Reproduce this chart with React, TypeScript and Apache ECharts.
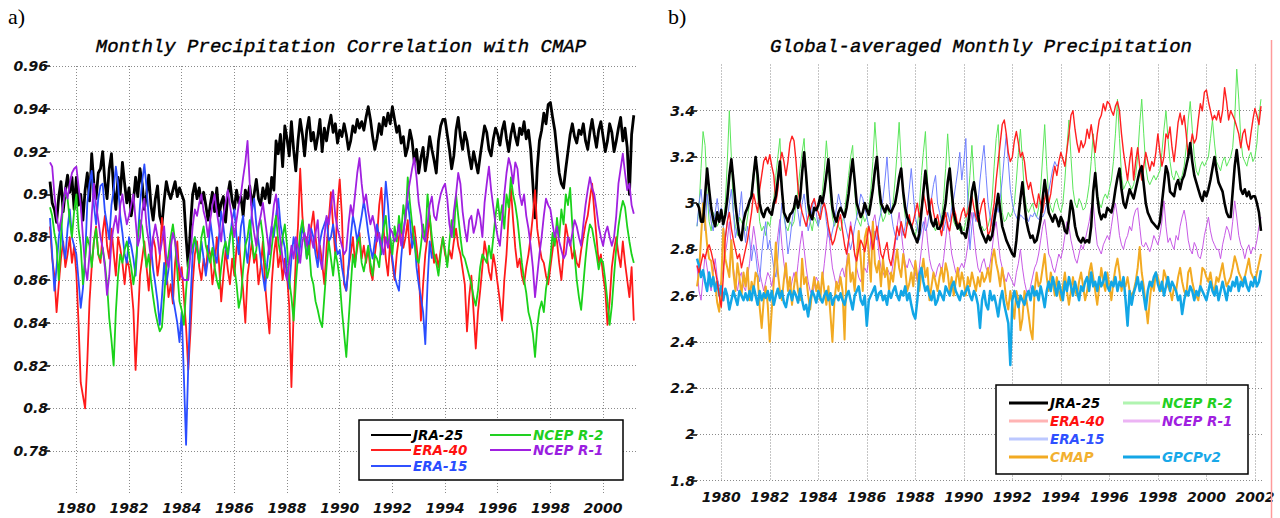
import React, { useEffect, useRef } from "react";
import * as echarts from "echarts";

const START_YEAR = 1979;
const X_TICKS = [1980, 1982, 1984, 1986, 1988, 1990, 1992, 1994, 1996, 1998, 2000, 2002];

// ---------- Panel a: monthly correlation with CMAP (Jan 1979 onward) ----------
const corrJRA25 = [
  0.906,0.896,0.893,0.887,0.899,0.906,0.892,0.902,0.909,0.901,0.908,0.893,
  0.908,0.895,0.900,0.888,0.902,0.910,0.897,0.919,0.905,0.898,0.910,0.912,
  0.920,0.906,0.898,0.912,0.919,0.902,0.893,0.908,0.900,0.915,0.905,0.896,
  0.903,0.890,0.897,0.908,0.899,0.912,0.905,0.893,0.900,0.909,0.895,0.888,
  0.898,0.904,0.890,0.886,0.897,0.906,0.901,0.898,0.902,0.906,0.899,0.903,
  0.900,0.897,0.880,0.866,0.885,0.900,0.905,0.898,0.903,0.896,0.901,0.895,
  0.888,0.895,0.901,0.892,0.903,0.890,0.896,0.899,0.887,0.900,0.906,0.897,
  0.893,0.902,0.896,0.899,0.890,0.902,0.898,0.904,0.895,0.900,0.907,0.898,
  0.895,0.903,0.898,0.905,0.896,0.908,0.902,0.925,0.919,0.928,0.913,0.932,
  0.926,0.918,0.934,0.921,0.911,0.925,0.935,0.928,0.918,0.930,0.936,0.925,
  0.929,0.921,0.927,0.935,0.920,0.931,0.925,0.932,0.937,0.929,0.933,0.924,
  0.930,0.927,0.933,0.928,0.921,0.925,0.932,0.929,0.935,0.931,0.934,0.930,
  0.936,0.941,0.935,0.927,0.921,0.926,0.933,0.928,0.936,0.932,0.938,0.933,
  0.941,0.935,0.929,0.932,0.924,0.927,0.918,0.922,0.930,0.925,0.915,0.921,
  0.910,0.917,0.922,0.911,0.918,0.927,0.921,0.916,0.910,0.925,0.932,0.935,
  0.935,0.928,0.921,0.912,0.918,0.930,0.936,0.927,0.921,0.929,0.925,0.918,
  0.912,0.920,0.915,0.910,0.918,0.925,0.932,0.929,0.921,0.918,0.926,0.931,
  0.928,0.923,0.930,0.934,0.926,0.920,0.928,0.933,0.927,0.923,0.931,0.928,
  0.934,0.926,0.930,0.921,0.905,0.889,0.912,0.925,0.930,0.938,0.933,0.942,
  0.943,0.936,0.930,0.920,0.910,0.905,0.903,0.912,0.920,0.928,0.933,0.927,
  0.924,0.930,0.928,0.933,0.925,0.921,0.929,0.935,0.928,0.922,0.930,0.934,
  0.927,0.920,0.925,0.933,0.929,0.920,0.925,0.931,0.936,0.925,0.931,0.922,
  0.900,0.928,0.937,
];
const corrERA40 = [
  0.885,0.870,0.862,0.845,0.858,0.870,0.878,0.866,0.872,0.880,0.868,0.876,
  0.863,0.840,0.812,0.806,0.800,0.822,0.850,0.866,0.878,0.885,0.872,0.868,
  0.882,0.890,0.876,0.870,0.884,0.873,0.862,0.880,0.875,0.868,0.858,0.870,
  0.866,0.858,0.846,0.818,0.840,0.862,0.870,0.878,0.866,0.855,0.872,0.880,
  0.875,0.862,0.870,0.889,0.878,0.865,0.852,0.858,0.849,0.868,0.878,0.860,
  0.866,0.852,0.838,0.818,0.836,0.858,0.872,0.878,0.866,0.860,0.870,0.864,
  0.876,0.872,0.858,0.866,0.880,0.868,0.850,0.862,0.874,0.865,0.858,0.870,
  0.862,0.875,0.880,0.866,0.855,0.840,0.862,0.870,0.878,0.868,0.872,0.858,
  0.866,0.878,0.858,0.846,0.835,0.858,0.872,0.880,0.866,0.872,0.860,0.870,
  0.862,0.848,0.810,0.845,0.870,0.885,0.912,0.890,0.878,0.880,0.872,0.885,
  0.892,0.880,0.870,0.876,0.868,0.858,0.875,0.888,0.901,0.885,0.872,0.895,
  0.907,0.890,0.858,0.855,0.866,0.872,0.880,0.868,0.875,0.882,0.870,0.876,
  0.868,0.875,0.864,0.860,0.872,0.880,0.895,0.903,0.884,0.870,0.862,0.878,
  0.868,0.860,0.872,0.880,0.886,0.875,0.880,0.888,0.872,0.880,0.885,0.876,
  0.866,0.841,0.858,0.872,0.880,0.890,0.876,0.868,0.872,0.866,0.874,0.880,
  0.872,0.868,0.874,0.870,0.878,0.884,0.876,0.872,0.865,0.858,0.836,0.852,
  0.862,0.845,0.828,0.845,0.855,0.866,0.878,0.872,0.864,0.860,0.872,0.866,
  0.858,0.850,0.841,0.860,0.872,0.890,0.903,0.888,0.875,0.866,0.870,0.862,
  0.858,0.866,0.872,0.880,0.890,0.902,0.884,0.876,0.870,0.868,0.862,0.858,
  0.866,0.874,0.882,0.878,0.868,0.860,0.872,0.886,0.880,0.878,0.870,0.874,
  0.868,0.866,0.874,0.880,0.886,0.890,0.898,0.905,0.892,0.880,0.868,0.872,
  0.862,0.855,0.839,0.850,0.866,0.874,0.880,0.872,0.866,0.878,0.868,0.860,
  0.852,0.866,0.841,
];
const corrERA15 = [
  0.889,0.872,0.855,0.866,0.880,0.887,0.876,0.870,0.884,0.893,0.880,0.876,
  0.872,0.860,0.847,0.856,0.870,0.896,0.905,0.911,0.895,0.886,0.898,0.904,
  0.905,0.892,0.886,0.879,0.895,0.902,0.913,0.905,0.890,0.882,0.872,0.868,
  0.880,0.876,0.870,0.862,0.880,0.895,0.906,0.914,0.903,0.889,0.876,0.865,
  0.858,0.850,0.839,0.852,0.868,0.858,0.865,0.878,0.852,0.846,0.840,0.831,
  0.845,0.815,0.783,0.820,0.850,0.872,0.880,0.875,0.868,0.878,0.870,0.862,
  0.870,0.888,0.880,0.872,0.868,0.880,0.892,0.885,0.876,0.870,0.880,0.888,
  0.893,0.880,0.872,0.885,0.890,0.876,0.868,0.880,0.892,0.898,0.886,0.878,
  0.870,0.862,0.855,0.868,0.878,0.885,0.880,0.890,0.898,0.886,0.880,0.875,
  0.864,0.856,0.870,0.880,0.875,0.868,0.876,0.885,0.880,0.870,0.878,0.884,
  0.880,0.872,0.866,0.878,0.883,0.886,0.889,0.878,0.880,0.886,0.878,0.872,
  0.874,0.866,0.860,0.855,0.866,0.880,0.890,0.885,0.878,0.884,0.890,0.897,
  0.890,0.882,0.875,0.870,0.878,0.886,0.880,0.872,0.888,0.906,0.895,0.880,
  0.870,0.862,0.858,0.855,0.870,0.882,0.890,0.897,0.888,0.875,0.880,0.866,
  0.858,0.852,0.845,0.830,0.858,0.878,0.870,
];
const corrNCEP2 = [
  0.894,0.890,0.882,0.876,0.860,0.880,0.896,0.900,0.898,0.888,0.880,0.892,
  0.900,0.884,0.876,0.858,0.870,0.880,0.876,0.866,0.878,0.884,0.872,0.870,
  0.875,0.868,0.858,0.842,0.832,0.820,0.845,0.862,0.872,0.868,0.874,0.878,
  0.872,0.866,0.858,0.866,0.880,0.888,0.885,0.874,0.866,0.872,0.860,0.852,
  0.845,0.840,0.836,0.838,0.852,0.866,0.872,0.880,0.886,0.878,0.864,0.850,
  0.846,0.839,0.855,0.868,0.872,0.876,0.880,0.874,0.868,0.880,0.885,0.876,
  0.872,0.868,0.875,0.866,0.860,0.856,0.866,0.874,0.878,0.872,0.880,0.885,
  0.866,0.858,0.847,0.852,0.865,0.876,0.880,0.888,0.878,0.870,0.874,0.885,
  0.888,0.880,0.868,0.861,0.866,0.875,0.884,0.890,0.878,0.872,0.880,0.886,
  0.876,0.860,0.852,0.841,0.858,0.872,0.882,0.888,0.880,0.870,0.876,0.862,
  0.858,0.850,0.846,0.841,0.838,0.852,0.866,0.878,0.870,0.862,0.873,0.868,
  0.860,0.846,0.835,0.824,0.840,0.856,0.872,0.866,0.878,0.880,0.868,0.864,
  0.870,0.876,0.868,0.862,0.872,0.870,0.866,0.878,0.884,0.890,0.876,0.880,
  0.872,0.885,0.878,0.890,0.882,0.895,0.888,0.908,0.896,0.886,0.878,0.870,
  0.868,0.876,0.886,0.878,0.900,0.890,0.880,0.872,0.868,0.862,0.872,0.880,
  0.874,0.866,0.878,0.888,0.880,0.900,0.890,0.880,0.872,0.870,0.866,0.862,
  0.858,0.852,0.848,0.855,0.866,0.872,0.870,0.868,0.876,0.870,0.880,0.890,
  0.898,0.888,0.895,0.884,0.900,0.894,0.908,0.900,0.895,0.888,0.878,0.868,
  0.860,0.854,0.845,0.841,0.835,0.824,0.838,0.846,0.850,0.845,0.856,0.862,
  0.870,0.882,0.876,0.889,0.880,0.893,0.886,0.900,0.895,0.903,0.885,0.872,
  0.860,0.852,0.846,0.858,0.870,0.880,0.886,0.884,0.878,0.872,0.865,0.870,
  0.868,0.860,0.850,0.839,0.848,0.862,0.875,0.885,0.892,0.897,0.894,0.885,
  0.878,0.872,0.868,
];
const corrNCEP1 = [
  0.915,0.913,0.900,0.890,0.883,0.888,0.895,0.903,0.898,0.905,0.910,0.912,
  0.913,0.904,0.895,0.880,0.866,0.860,0.872,0.890,0.905,0.895,0.888,0.880,
  0.875,0.866,0.853,0.862,0.878,0.885,0.890,0.882,0.895,0.900,0.892,0.886,
  0.890,0.895,0.900,0.888,0.876,0.880,0.892,0.898,0.885,0.878,0.870,0.880,
  0.886,0.880,0.872,0.878,0.885,0.870,0.866,0.875,0.882,0.878,0.870,0.866,
  0.862,0.860,0.860,0.860,0.872,0.885,0.893,0.890,0.896,0.900,0.892,0.888,
  0.880,0.888,0.895,0.900,0.892,0.885,0.878,0.890,0.896,0.902,0.895,0.888,
  0.880,0.888,0.895,0.900,0.908,0.915,0.925,0.905,0.890,0.882,0.876,0.885,
  0.890,0.896,0.888,0.880,0.872,0.885,0.895,0.900,0.888,0.878,0.870,0.864,
  0.860,0.868,0.876,0.870,0.880,0.875,0.868,0.878,0.882,0.876,0.886,0.880,
  0.875,0.882,0.888,0.870,0.865,0.880,0.890,0.886,0.895,0.902,0.890,0.884,
  0.880,0.876,0.872,0.874,0.886,0.895,0.890,0.900,0.910,0.917,0.905,0.896,
  0.900,0.892,0.886,0.890,0.885,0.878,0.882,0.876,0.872,0.880,0.875,0.884,
  0.882,0.878,0.880,0.886,0.876,0.882,0.890,0.900,0.906,0.912,0.917,0.908,
  0.896,0.890,0.880,0.878,0.886,0.895,0.899,0.890,0.888,0.895,0.900,0.903,
  0.905,0.898,0.886,0.880,0.892,0.900,0.910,0.905,0.892,0.884,0.878,0.888,
  0.890,0.882,0.886,0.893,0.889,0.880,0.896,0.905,0.913,0.902,0.894,0.886,
  0.880,0.876,0.888,0.900,0.910,0.917,0.913,0.905,0.915,0.912,0.900,0.895,
  0.900,0.890,0.884,0.876,0.866,0.852,0.862,0.872,0.880,0.890,0.898,0.895,
  0.893,0.886,0.880,0.885,0.878,0.874,0.870,0.872,0.880,0.876,0.882,0.888,
  0.885,0.880,0.876,0.886,0.895,0.902,0.908,0.903,0.900,0.893,0.885,0.880,
  0.876,0.882,0.885,0.880,0.876,0.880,0.890,0.905,0.912,0.919,0.910,0.902,
  0.905,0.895,0.891,
];

// ---------- Panel b: global-averaged monthly precipitation (mm/day), Jan 1979 onward ----------
const precJRA25 = [
  3.00,2.98,2.92,2.92,3.03,3.15,3.06,2.98,2.93,2.90,2.96,2.92,
  2.97,2.91,2.95,3.02,3.12,3.19,3.10,3.00,2.92,2.86,2.84,2.92,
  2.96,2.98,3.01,3.03,3.12,3.20,3.12,3.00,2.96,2.94,2.97,2.98,
  2.96,2.95,3.00,3.03,3.10,3.18,3.06,2.96,2.94,2.92,2.95,2.96,
  2.98,3.03,2.98,3.02,3.13,3.22,3.12,3.00,2.95,2.93,2.98,2.97,
  2.99,3.03,3.00,3.05,3.12,3.19,3.08,2.98,2.94,2.92,2.96,2.98,
  2.96,2.94,2.98,3.04,3.12,3.19,3.10,3.00,2.97,2.94,2.96,3.00,
  2.97,2.95,3.00,3.06,3.14,3.20,3.08,3.00,2.98,2.96,2.99,2.97,
  2.96,2.98,3.00,3.05,3.11,3.15,3.05,2.98,2.94,2.92,2.90,2.87,
  2.85,2.83,2.87,2.96,3.05,3.14,3.06,2.97,2.92,2.90,2.93,2.89,
  2.89,2.91,2.95,3.00,3.09,3.15,3.05,2.96,2.92,2.89,2.91,2.87,
  2.87,2.85,2.90,2.97,3.05,3.09,3.03,2.95,2.90,2.87,2.85,2.83,
  2.86,2.84,2.86,2.92,2.98,3.04,2.97,2.90,2.87,2.84,2.82,2.80,
  2.78,2.77,2.84,2.94,3.02,3.09,3.00,2.92,2.88,2.85,2.86,2.83,
  2.84,2.88,2.93,3.02,3.10,3.03,2.96,2.94,2.92,2.95,2.93,2.90,
  2.94,2.92,2.88,2.87,2.93,3.01,2.97,2.90,2.86,2.84,2.83,2.85,
  2.83,2.84,2.83,2.90,3.05,3.13,3.03,2.96,2.93,2.95,2.94,2.98,
  2.97,2.96,3.00,3.06,3.11,3.15,3.06,3.00,2.98,3.02,3.06,3.04,
  3.02,3.06,3.10,3.14,3.16,3.08,3.00,2.96,2.94,2.92,2.91,2.90,
  2.89,2.92,3.00,3.08,3.16,3.13,3.05,3.04,3.03,3.08,3.10,3.06,
  3.10,3.12,3.16,3.20,3.26,3.18,3.12,3.09,3.06,3.03,3.01,3.05,
  3.03,3.06,3.10,3.15,3.20,3.14,3.09,3.07,3.05,3.00,2.96,2.94,
  2.94,3.05,3.16,3.23,3.15,3.06,3.04,3.06,3.03,3.05,3.02,3.03,
  3.03,3.00,2.96,2.88,
];
const precERA40 = [
  2.73,2.70,2.74,2.78,2.76,2.80,2.82,2.79,2.75,2.71,2.66,2.60,
  2.55,2.68,2.85,2.92,2.96,2.89,2.84,2.80,2.76,2.78,2.72,2.76,
  2.80,2.84,2.90,2.96,3.04,3.00,2.96,3.06,3.12,3.18,3.20,3.17,
  3.21,3.16,3.12,3.00,3.06,3.18,3.22,3.18,3.12,3.18,3.26,3.29,
  3.27,3.18,3.06,3.00,2.96,2.93,2.90,2.94,2.97,3.00,3.02,2.98,
  2.96,2.93,2.98,3.00,2.96,2.90,2.86,2.82,2.84,2.88,2.92,2.95,
  2.88,2.82,2.78,2.84,2.90,2.86,2.78,2.75,2.80,2.84,2.82,2.79,
  2.84,2.90,2.86,2.80,2.85,2.90,2.84,2.78,2.76,2.80,2.83,2.76,
  2.73,2.78,2.84,2.90,2.86,2.92,2.88,2.85,2.91,2.95,2.89,2.92,
  2.96,3.00,2.94,2.98,3.04,3.00,2.95,2.98,3.02,2.96,2.92,2.95,
  2.90,2.86,2.92,2.96,2.90,2.88,2.94,2.98,2.95,2.90,2.92,2.96,
  2.98,2.94,2.96,3.00,3.03,2.98,2.94,2.92,2.96,3.00,3.02,2.94,
  2.86,2.88,2.94,3.00,3.10,3.18,3.26,3.34,3.36,3.30,3.22,3.18,
  3.20,3.27,3.31,3.26,3.20,3.22,3.18,3.10,3.06,3.09,3.04,3.00,
  2.98,3.04,3.00,2.96,3.02,3.06,3.00,3.04,3.11,3.16,3.12,3.18,
  3.22,3.19,3.16,3.23,3.30,3.38,3.40,3.32,3.26,3.22,3.27,3.24,
  3.26,3.32,3.28,3.34,3.28,3.22,3.30,3.36,3.38,3.43,3.40,3.44,
  3.43,3.40,3.38,3.42,3.44,3.40,3.30,3.22,3.16,3.10,3.18,3.24,
  3.10,3.18,3.24,3.16,3.10,3.16,3.22,3.18,3.14,3.18,3.16,3.22,
  3.30,3.22,3.16,3.20,3.30,3.28,3.33,3.24,3.18,3.26,3.35,3.39,
  3.34,3.38,3.30,3.20,3.24,3.30,3.26,3.28,3.36,3.43,3.40,3.48,
  3.49,3.44,3.40,3.36,3.38,3.36,3.40,3.35,3.40,3.50,3.44,3.36,
  3.40,3.38,3.36,3.33,3.30,3.24,3.30,3.32,3.26,3.23,3.30,3.36,
  3.41,3.38,3.34,3.42,
];
const precERA15 = [
  2.90,3.00,3.06,2.96,2.88,3.04,2.98,2.92,2.88,2.96,3.02,2.94,
  2.98,2.90,2.84,2.92,3.00,3.06,2.96,2.85,2.90,2.96,3.05,2.92,
  2.83,2.90,2.85,2.75,2.82,2.78,2.70,2.66,2.78,2.86,2.92,2.80,
  2.84,2.78,2.72,2.68,2.76,2.90,3.00,2.96,2.88,2.78,2.84,2.92,
  2.98,3.02,2.96,2.90,3.00,3.04,2.96,2.88,2.92,2.98,3.02,2.96,
  2.90,2.96,3.02,3.00,2.92,2.86,2.84,2.88,2.92,2.98,3.04,3.00,
  2.96,2.92,2.88,2.84,2.80,2.84,2.90,2.94,2.98,3.04,3.02,2.98,
  2.94,2.90,2.86,2.82,2.88,2.84,2.92,2.96,3.02,3.10,3.20,3.06,
  2.96,2.90,2.86,2.84,2.88,2.92,2.86,2.90,2.98,3.06,3.15,3.04,
  2.94,2.90,2.84,2.88,2.92,2.88,2.90,2.96,3.02,3.08,3.12,3.00,
  2.96,2.92,2.88,2.92,2.96,2.92,2.98,3.02,3.08,3.14,3.22,3.10,
  3.18,3.28,3.00,2.80,2.90,2.96,2.92,3.00,3.10,3.18,3.25,3.12,
  3.00,2.94,2.90,2.96,3.00,2.96,3.02,3.10,3.20,3.30,3.18,3.06,
  3.00,2.96,2.94,2.92,2.95,2.94,2.93,2.94,2.92,2.95,2.94,2.96,
  2.94,2.93,2.95,2.94,2.96,3.00,3.05,3.10,3.15,3.18,3.16,3.17,
];
const precNCEP2 = [
  2.90,2.98,3.15,3.31,3.25,3.05,2.92,2.88,2.96,2.94,2.90,2.92,
  2.96,2.90,3.00,3.18,3.40,3.20,2.96,2.90,2.86,2.94,2.92,2.90,
  2.88,2.94,3.00,3.06,3.14,3.20,3.04,2.92,2.88,2.90,2.86,2.92,
  2.90,2.96,3.02,3.12,3.20,3.28,3.08,2.94,2.90,2.88,2.92,2.90,
  2.92,3.00,3.06,3.15,3.22,3.28,3.10,2.96,2.92,2.88,2.94,2.92,
  2.90,2.96,3.05,3.14,3.27,3.16,3.02,2.94,2.90,2.93,2.90,2.88,
  2.92,2.96,3.04,3.12,3.20,3.25,3.06,2.94,2.92,2.90,2.95,2.92,
  2.94,2.98,3.06,3.18,3.35,3.22,3.04,2.96,2.92,2.94,2.98,2.95,
  2.96,3.00,3.10,3.22,3.35,3.18,3.02,2.94,2.90,2.92,2.90,2.88,
  2.86,2.90,2.98,3.12,3.22,3.31,3.10,2.96,2.92,2.90,2.88,2.92,
  2.90,2.94,3.02,3.15,3.30,3.16,3.00,2.92,2.90,2.92,2.88,2.90,
  2.88,2.92,3.00,3.12,3.25,3.10,2.98,2.92,2.89,2.90,2.88,2.89,
  2.90,2.94,3.02,3.16,3.28,3.34,3.12,2.96,2.92,2.93,2.96,2.94,
  2.96,3.00,3.10,3.22,3.32,3.18,3.04,2.98,2.96,2.98,3.00,2.96,
  2.94,2.98,3.06,3.20,3.34,3.16,3.02,2.98,2.96,3.00,3.02,2.98,
  2.96,3.00,3.10,3.24,3.36,3.20,3.06,3.00,2.98,3.02,3.00,2.97,
  2.98,3.02,3.08,3.18,3.30,3.16,3.04,3.00,2.98,3.02,3.04,3.02,
  3.06,3.10,3.18,3.30,3.45,3.28,3.12,3.06,3.08,3.10,3.08,3.06,
  3.08,3.12,3.20,3.34,3.45,3.30,3.16,3.10,3.08,3.10,3.12,3.10,
  3.12,3.14,3.22,3.32,3.40,3.28,3.18,3.12,3.10,3.14,3.12,3.10,
  3.12,3.16,3.24,3.36,3.44,3.32,3.20,3.14,3.12,3.16,3.18,3.16,
  3.18,3.20,3.28,3.36,3.26,3.18,3.16,3.14,3.18,3.20,3.16,3.18,
  3.20,3.24,3.36,3.58,3.45,3.28,3.20,3.18,3.16,3.20,3.22,3.18,
  3.20,3.26,3.38,3.45,
];
const precNCEP1 = [
  2.73,2.62,2.58,2.68,2.78,2.72,2.66,2.62,2.70,2.76,2.68,2.64,
  2.66,2.72,2.78,2.84,2.92,2.80,2.72,2.66,2.62,2.68,2.70,2.64,
  2.62,2.68,2.74,2.82,2.90,2.84,2.76,2.70,2.66,2.62,2.66,2.70,
  2.68,2.64,2.70,2.78,2.86,2.93,2.82,2.74,2.68,2.64,2.62,2.66,
  2.70,2.66,2.74,2.82,2.88,2.80,2.72,2.66,2.62,2.60,2.64,2.68,
  2.66,2.62,2.66,2.74,2.82,2.90,2.80,2.72,2.68,2.64,2.66,2.70,
  2.72,2.68,2.74,2.84,2.92,2.86,2.78,2.72,2.68,2.66,2.70,2.72,
  2.70,2.76,2.84,2.92,2.95,2.88,2.78,2.72,2.70,2.68,2.72,2.70,
  2.68,2.74,2.82,2.90,2.96,2.88,2.80,2.74,2.72,2.76,2.74,2.72,
  2.70,2.66,2.72,2.80,2.88,2.94,2.84,2.76,2.72,2.70,2.68,2.72,
  2.74,2.70,2.76,2.84,2.92,2.86,2.78,2.74,2.70,2.68,2.72,2.74,
  2.72,2.76,2.82,2.90,2.96,2.86,2.78,2.72,2.70,2.74,2.76,2.72,
  2.70,2.74,2.80,2.88,2.92,2.84,2.76,2.72,2.68,2.66,2.70,2.68,
  2.66,2.64,2.70,2.74,2.80,2.72,2.66,2.62,2.60,2.64,2.68,2.72,
  2.74,2.78,2.84,2.90,2.93,2.86,2.78,2.76,2.72,2.70,2.74,2.78,
  2.76,2.80,2.86,2.92,2.90,2.84,2.80,2.76,2.74,2.78,2.82,2.80,
  2.84,2.88,2.92,2.98,3.00,2.90,2.82,2.80,2.78,2.82,2.84,2.86,
  2.84,2.90,2.96,3.00,2.94,2.86,2.82,2.80,2.84,2.86,2.90,2.88,
  2.94,2.97,2.98,2.90,2.82,2.81,2.83,2.81,2.79,2.82,2.86,2.84,
  2.82,2.86,2.92,3.01,2.90,2.83,2.85,2.82,2.80,2.86,2.84,2.90,
  2.94,2.97,2.92,2.84,2.80,2.78,2.83,2.81,2.77,2.76,2.80,2.86,
  2.90,2.94,2.88,2.84,2.82,2.80,2.80,2.76,2.82,2.86,2.90,2.88,
  2.84,2.92,3.01,2.94,2.86,2.82,2.80,2.76,2.80,2.82,2.78,2.81,
  2.80,2.84,2.90,2.94,
];
const precCMAP = [
  2.64,2.70,2.85,3.00,2.92,2.82,2.76,2.75,2.68,2.65,2.57,2.53,
  2.66,2.89,2.76,2.72,2.68,2.84,2.70,2.62,2.74,2.68,2.60,2.70,
  2.64,2.72,2.58,2.66,2.62,2.70,2.68,2.55,2.46,2.58,2.64,2.56,
  2.40,2.54,2.66,2.83,2.70,2.62,2.58,2.67,2.74,2.62,2.68,2.56,
  2.64,2.70,2.62,2.58,2.76,2.65,2.68,2.60,2.54,2.62,2.68,2.62,
  2.66,2.58,2.70,2.62,2.56,2.64,2.52,2.40,2.58,2.66,2.62,2.68,
  2.62,2.41,2.72,2.78,2.66,2.70,2.62,2.76,2.88,2.76,2.62,2.85,
  2.89,2.78,2.66,2.92,2.74,2.70,2.75,2.64,2.76,2.68,2.72,2.62,
  2.70,2.66,2.74,2.80,2.72,2.68,2.78,2.72,2.62,2.65,2.70,2.64,
  2.75,2.68,2.62,2.70,2.76,2.68,2.72,2.58,2.64,2.70,2.66,2.62,
  2.68,2.72,2.66,2.74,2.70,2.62,2.68,2.60,2.66,2.72,2.64,2.70,
  2.66,2.60,2.68,2.64,2.70,2.66,2.62,2.68,2.64,2.70,2.66,2.68,
  2.72,2.66,2.76,2.80,2.74,2.70,2.64,2.72,2.66,2.58,2.54,2.62,
  2.56,2.50,2.62,2.58,2.45,2.50,2.62,2.58,2.52,2.45,2.41,2.62,
  2.70,2.64,2.66,2.72,2.78,2.68,2.62,2.70,2.66,2.60,2.68,2.62,
  2.58,2.64,2.70,2.62,2.56,2.62,2.68,2.62,2.60,2.66,2.70,2.64,
  2.58,2.62,2.70,2.74,2.68,2.62,2.56,2.64,2.72,2.66,2.62,2.70,
  2.64,2.58,2.66,2.72,2.76,2.70,2.62,2.66,2.64,2.68,2.62,2.60,
  2.62,2.66,2.72,2.81,2.70,2.64,2.56,2.48,2.58,2.66,2.62,2.70,
  2.68,2.64,2.62,2.71,2.68,2.64,2.62,2.58,2.64,2.62,2.68,2.72,
  2.66,2.62,2.60,2.70,2.72,2.66,2.62,2.60,2.58,2.64,2.72,2.71,
  2.68,2.66,2.70,2.64,2.62,2.68,2.66,2.70,2.74,2.68,2.64,2.66,
  2.68,2.72,2.77,2.74,2.70,2.68,2.66,2.68,2.72,2.76,2.70,2.68,
  2.66,2.70,2.74,2.78,
];
const precGPCP = [
  2.76,2.73,2.68,2.71,2.66,2.62,2.70,2.64,2.68,2.62,2.66,2.60,
  2.64,2.58,2.63,2.60,2.54,2.58,2.62,2.59,2.56,2.62,2.60,2.58,
  2.61,2.58,2.62,2.58,2.64,2.60,2.56,2.62,2.58,2.61,2.59,2.62,
  2.58,2.62,2.56,2.60,2.63,2.59,2.62,2.57,2.55,2.60,2.62,2.58,
  2.62,2.60,2.57,2.63,2.58,2.54,2.56,2.51,2.58,2.62,2.60,2.57,
  2.62,2.59,2.57,2.60,2.62,2.58,2.61,2.56,2.59,2.60,2.58,2.61,
  2.58,2.56,2.60,2.62,2.58,2.54,2.60,2.62,2.64,2.58,2.56,2.60,
  2.47,2.58,2.60,2.62,2.64,2.58,2.61,2.62,2.58,2.60,2.56,2.62,
  2.59,2.62,2.64,2.60,2.58,2.62,2.60,2.64,2.58,2.61,2.56,2.52,
  2.50,2.58,2.69,2.72,2.66,2.62,2.64,2.60,2.58,2.62,2.56,2.58,
  2.62,2.60,2.58,2.64,2.62,2.60,2.64,2.66,2.62,2.60,2.58,2.62,
  2.60,2.62,2.64,2.60,2.58,2.62,2.60,2.56,2.46,2.58,2.62,2.56,
  2.54,2.62,2.58,2.60,2.56,2.51,2.58,2.62,2.56,2.52,2.48,2.30,
  2.58,2.62,2.58,2.55,2.60,2.58,2.56,2.60,2.62,2.58,2.64,2.60,
  2.62,2.58,2.64,2.60,2.55,2.62,2.66,2.62,2.68,2.64,2.60,2.66,
  2.62,2.58,2.66,2.62,2.68,2.64,2.60,2.66,2.62,2.58,2.64,2.62,
  2.66,2.68,2.62,2.70,2.64,2.66,2.62,2.68,2.64,2.66,2.70,2.64,
  2.62,2.66,2.64,2.68,2.62,2.66,2.64,2.68,2.58,2.47,2.62,2.56,
  2.61,2.64,2.68,2.62,2.66,2.60,2.54,2.62,2.66,2.64,2.68,2.70,
  2.65,2.62,2.66,2.60,2.64,2.68,2.62,2.66,2.64,2.62,2.58,2.60,
  2.52,2.58,2.62,2.60,2.64,2.62,2.58,2.62,2.60,2.64,2.62,2.60,
  2.58,2.62,2.66,2.62,2.60,2.64,2.58,2.62,2.66,2.62,2.58,2.64,
  2.62,2.66,2.64,2.68,2.62,2.66,2.64,2.68,2.64,2.62,2.66,2.64,
  2.68,2.64,2.66,2.71,
];

const LABEL_FONT = "'DejaVu Sans', sans-serif";
const TITLE_FONT = "'Liberation Mono', monospace";

const toXY = (vals: number[]) => vals.map((v, i) => [START_YEAR + i / 12, v]);

const gridLine = { show: true, lineStyle: { color: "#8a8a8a", width: 1, type: [1, 2] as any } };
const axisLabelStyle = {
  fontFamily: LABEL_FONT,
  fontSize: 14,
  fontWeight: "bold" as const,
  fontStyle: "italic" as const,
  color: "#111",
};

function xAxisFor(gridIndex: number, min: number, max: number, margin: number) {
  return {
    type: "value",
    gridIndex,
    min,
    max,
    minInterval: 2,
    maxInterval: 2,
    splitNumber: 11,
    axisLine: { show: false },
    axisTick: { show: false },
    splitLine: { ...gridLine, showMinLine: false, showMaxLine: false },
    axisLabel: {
      ...axisLabelStyle,
      margin,
      showMinLabel: false,
      showMaxLabel: false,
      formatter: (v: number) => (X_TICKS.some((t) => Math.abs(t - v) < 1e-6) ? String(Math.round(v)) : ""),
    },
  };
}

function legendItems(rows: any[]) {
  const els: any[] = [];
  rows.forEach((r) => {
    els.push({
      type: "line",
      shape: { x1: r.x, y1: r.y, x2: r.x + r.len, y2: r.y },
      style: { stroke: r.line, lineWidth: r.w },
      z: 100,
    });
    els.push({
      type: "text",
      x: r.x + r.len + 2,
      y: r.y,
      style: {
        text: r.name,
        fill: r.color,
        font: `italic bold 13.5px ${LABEL_FONT}`,
        textVerticalAlign: "middle",
        textAlign: "left",
      },
      z: 100,
    });
  });
  return els;
}

export default function App() {
  const ref = useRef<HTMLDivElement>(null);

  useEffect(() => {
    if (!ref.current) return;
    const chart = echarts.init(ref.current, undefined, { renderer: "svg" });

    const lineSeries = (name: string, data: number[], color: string, width: number, idx: number, z: number) => ({
      name,
      type: "line",
      xAxisIndex: idx,
      yAxisIndex: idx,
      data: toXY(data),
      showSymbol: false,
      symbol: "none",
      smooth: false,
      z,
      lineStyle: { color, width, join: "round" },
      itemStyle: { color },
      emphasis: { disabled: true },
    });

    const legendA = [
      { x: 371, y: 435, len: 40, line: "#000000", w: 2, name: "JRA-25", color: "#000000" },
      { x: 371, y: 450, len: 40, line: "#ff2020", w: 2, name: "ERA-40", color: "#ff1010" },
      { x: 371, y: 466, len: 40, line: "#3050ff", w: 2, name: "ERA-15", color: "#2a4dff" },
      { x: 490, y: 435, len: 41, line: "#22d022", w: 2, name: "NCEP R-2", color: "#1fcf1f" },
      { x: 490, y: 450, len: 41, line: "#a020e0", w: 2, name: "NCEP R-1", color: "#9a1ee0" },
    ];
    const legendB = [
      { x: 1009, y: 403, len: 39, line: "#000000", w: 3, name: "JRA-25", color: "#000000" },
      { x: 1009, y: 421, len: 39, line: "#ffb4b4", w: 3, name: "ERA-40", color: "#ff1010" },
      { x: 1009, y: 439, len: 39, line: "#bcc8ff", w: 3, name: "ERA-15", color: "#3050ff" },
      { x: 1009, y: 457, len: 39, line: "#f2aa22", w: 3, name: "CMAP", color: "#f2b030" },
      { x: 1123, y: 403, len: 37, line: "#b0f4b0", w: 3, name: "NCEP R-2", color: "#22d022" },
      { x: 1123, y: 421, len: 37, line: "#ecb4f4", w: 3, name: "NCEP R-1", color: "#a020e0" },
      { x: 1123, y: 457, len: 37, line: "#14a6e6", w: 3, name: "GPCPv2", color: "#18a8e8" },
    ];

    chart.setOption({
      animation: false,
      backgroundColor: "#ffffff",
      grid: [
        { left: 50, top: 66, width: 586, height: 428 },
        { left: 697, top: 64.5, width: 566, height: 416 },
      ],
      xAxis: [xAxisFor(0, 1979, 2001.25, 7), xAxisFor(1, 1979, 2002.333, 9)],
      yAxis: [
        {
          type: "value",
          gridIndex: 0,
          min: 0.76,
          max: 0.96,
          interval: 0.02,
          axisLine: { show: false },
          axisTick: { show: true, length: 6, lineStyle: { color: "#000", width: 1.5 } },
          splitLine: { ...gridLine, showMinLine: false },
          axisLabel: { ...axisLabelStyle, margin: 2, showMinLabel: false },
        },
        {
          type: "value",
          gridIndex: 1,
          min: 1.8,
          max: 3.6,
          interval: 0.2,
          axisLine: { show: false },
          axisTick: { show: true, length: 6, lineStyle: { color: "#000", width: 1.5 } },
          splitLine: { ...gridLine, showMaxLine: false },
          axisLabel: { ...axisLabelStyle, margin: 2, showMaxLabel: false },
        },
      ],
      series: [
        lineSeries("JRA-25", corrJRA25, "#000000", 2.8, 0, 2),
        lineSeries("ERA-40", corrERA40, "#ff1a1a", 1.8, 0, 3),
        lineSeries("ERA-15", corrERA15, "#2a4dff", 1.8, 0, 4),
        lineSeries("NCEP R-2", corrNCEP2, "#1ad21a", 1.8, 0, 5),
        lineSeries("NCEP R-1", corrNCEP1, "#a020e0", 1.8, 0, 6),

        lineSeries("NCEP R-2", precNCEP2, "#5ae65a", 1, 1, 2),
        lineSeries("NCEP R-1", precNCEP1, "#c85ae6", 1, 1, 2),
        lineSeries("ERA-15", precERA15, "#7080ff", 1, 1, 2),
        lineSeries("CMAP", precCMAP, "#f2aa22", 2, 1, 3),
        lineSeries("GPCPv2", precGPCP, "#12a6e6", 2.5, 1, 4),
        lineSeries("ERA-40", precERA40, "#ff2020", 1.4, 1, 5),
        lineSeries("JRA-25", precJRA25, "#000000", 2.6, 1, 6),
      ],
      graphic: [
        { type: "text", x: 8, y: 5, style: { text: "a)", font: "22px 'Liberation Serif', serif", fill: "#000" } },
        { type: "text", x: 668, y: 5, style: { text: "b)", font: "22px 'Liberation Serif', serif", fill: "#000" } },
        {
          type: "text",
          x: 341,
          y: 47,
          style: {
            text: "Monthly Precipitation Correlation with CMAP",
            font: `italic 19px ${TITLE_FONT}`,
            fill: "#000",
            stroke: "#000",
            lineWidth: 0.4,
            textAlign: "center",
            textVerticalAlign: "middle",
          },
        },
        {
          type: "text",
          x: 981,
          y: 47,
          style: {
            text: "Global-averaged Monthly Precipitation",
            font: `italic 19px ${TITLE_FONT}`,
            fill: "#000",
            stroke: "#000",
            lineWidth: 0.4,
            textAlign: "center",
            textVerticalAlign: "middle",
          },
        },
        {
          type: "rect",
          shape: { x: 359, y: 420, width: 264, height: 60 },
          style: { fill: "#ffffff", stroke: "#000000", lineWidth: 1.5 },
          z: 99,
        },
        ...legendItems(legendA),
        {
          type: "rect",
          shape: { x: 996, y: 385, width: 252, height: 89 },
          style: { fill: "#ffffff", stroke: "#000000", lineWidth: 1.5 },
          z: 99,
        },
        ...legendItems(legendB),
        {
          type: "line",
          shape: { x1: 1271.5, y1: 40, x2: 1271.5, y2: 518 },
          style: { stroke: "#ff9a9a", lineWidth: 1.5 },
          z: 100,
        },
      ],
    });

    return () => chart.dispose();
  }, []);

  return (
    <div
      ref={ref}
      style={{ position: "absolute", left: 0, top: 0, width: 1280, height: 518, background: "#fff" }}
    />
  );
}
